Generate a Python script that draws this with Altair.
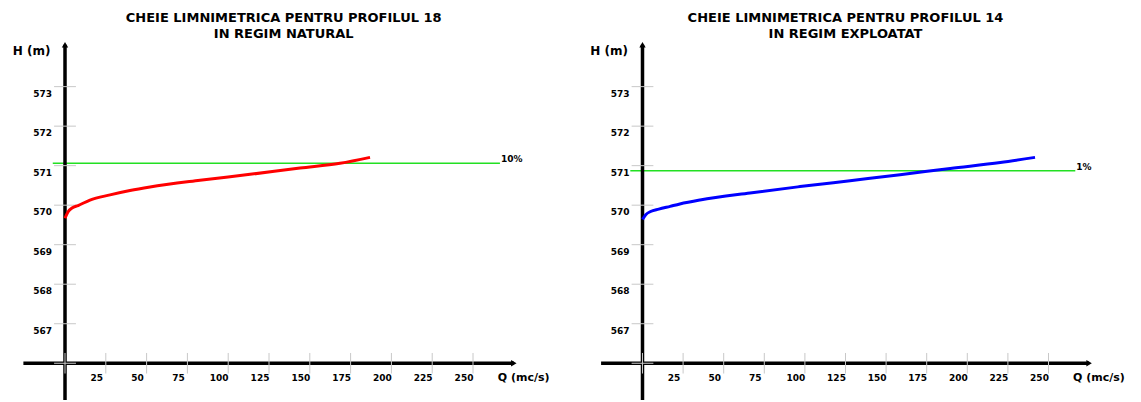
import altair as alt
import pandas as pd

# ---------------- data ----------------
q_nat = [0, 1.8, 4.3, 8.0, 15.3, 27.6, 39.8, 52.1, 82.7, 113.4, 144, 168.5, 186.9]
h_nat = [569.67, 569.83, 569.93, 569.99, 570.13, 570.26, 570.37, 570.46, 570.63, 570.78, 570.94, 571.06, 571.21]

q_exp = [0, 2, 5, 10, 17, 23, 35.4, 66.2, 97, 127.8, 158.6, 189.5, 220.3, 241.7]
h_exp = [569.64, 569.76, 569.84, 569.90, 569.97, 570.03, 570.13, 570.31, 570.47, 570.62, 570.77, 570.93, 571.08, 571.21]

y_ticks = [567, 568, 569, 570, 571, 572, 573]
x_ticks = [25, 50, 75, 100, 125, 150, 175, 200, 225, 250]
x_tick_labels = ["25", "50", "75", "100", "125", "150", "175", "200", "225", "250"]

green_nat = 571.06
green_exp = 570.87
green_label_nat = "10%"
green_label_exp = "1%"

title_nat = ["CHEIE LIMNIMETRICA PENTRU PROFILUL 18", "IN REGIM NATURAL"]
title_exp = ["CHEIE LIMNIMETRICA PENTRU PROFILUL 14", "IN REGIM EXPLOATAT"]

# ---------------- layout constants ----------------
H_MIN, H_MAX = 565.07, 574.99
H0 = 566            # origin of vertical axis
FONT = "DejaVu Sans"


def panel(q, h, color, green_h, green_label, title, title_q, qmin, qmax, width):
    xs = alt.Scale(domain=[qmin, qmax], nice=False, zero=False)
    ys = alt.Scale(domain=[H_MIN, H_MAX], nice=False, zero=False)

    def X(f="q"):
        return alt.X(f"{f}:Q", scale=xs, axis=None)

    def Y(f="h"):
        return alt.Y(f"{f}:Q", scale=ys, axis=None)

    curve = alt.Chart(pd.DataFrame({"q": q, "h": h})).mark_line(
        color=color, strokeWidth=3, interpolate="monotone"
    ).encode(x=X(), y=Y())

    gdf = pd.DataFrame({"q": [-7.5], "q2": [266.5], "h": [green_h], "lab": [green_label]})
    green = alt.Chart(gdf).mark_rule(color="#22e022", strokeWidth=1.5).encode(
        x=X(), x2="q2:Q", y=Y()
    )
    glab = alt.Chart(gdf).mark_text(
        align="left", baseline="alphabetic", font=FONT, fontWeight="bold", fontSize=9, dx=1, dy=-1
    ).encode(x=X("q2"), y=Y(), text="lab:N")

    # axis lines
    yaxis = alt.Chart(pd.DataFrame({"q": [0], "h": [H_MIN], "h2": [574.06]})).mark_rule(
        color="black", strokeWidth=3.5
    ).encode(x=X(), y=Y(), y2="h2:Q")
    xaxis = alt.Chart(pd.DataFrame({"q": [-25.5], "q2": [275], "h": [H0]})).mark_rule(
        color="black", strokeWidth=3.5
    ).encode(x=X(), x2="q2:Q", y=Y())
    arrow_up = alt.Chart(pd.DataFrame({"q": [0], "h": [574.06]})).mark_point(
        shape="triangle-up", filled=True, color="black", size=40, opacity=1
    ).encode(x=X(), y=Y())
    arrow_r = alt.Chart(pd.DataFrame({"q": [275], "h": [H0]})).mark_point(
        shape="triangle-right", filled=True, color="black", size=40, opacity=1
    ).encode(x=X(), y=Y())

    # ticks
    ytdf = pd.DataFrame({"h": y_ticks + [H0], "q": -6.7, "q2": 6.7})
    yt = alt.Chart(ytdf).mark_rule(color="#c8c8c8", strokeWidth=1).encode(
        x=X(), x2="q2:Q", y=Y()
    )
    xtdf = pd.DataFrame({"q": x_ticks + [0], "h": H0 - 0.26, "h2": H0 + 0.26})
    xt = alt.Chart(xtdf).mark_rule(color="#c8c8c8", strokeWidth=1).encode(
        x=X(), y=Y(), y2="h2:Q"
    )

    # tick labels
    yldf = pd.DataFrame({"h": y_ticks, "q": 0, "lab": [str(v) for v in y_ticks]})
    yl = alt.Chart(yldf).mark_text(
        align="right", baseline="middle", font=FONT, fontWeight="bold", fontSize=9, dx=-13, dy=7
    ).encode(x=X(), y=Y(), text="lab:N")
    xldf = pd.DataFrame({"q": x_ticks, "h": H0, "lab": x_tick_labels})
    xl = alt.Chart(xldf).mark_text(
        align="center", baseline="middle", font=FONT, fontWeight="bold", fontSize=9, dx=-9, dy=15
    ).encode(x=X(), y=Y(), text="lab:N")

    # axis titles
    ht = alt.Chart(pd.DataFrame({"q": [-20.5], "h": [573.9], "lab": ["H (m)"]})).mark_text(
        align="center", baseline="middle", font=FONT, fontWeight="bold", fontSize=12
    ).encode(x=X(), y=Y(), text="lab:N")
    qt = alt.Chart(pd.DataFrame({"q": [281], "h": [H0], "lab": ["Q (mc/s)"]})).mark_text(
        align="center", baseline="middle", font=FONT, fontWeight="bold", fontSize=11, dy=15
    ).encode(x=X(), y=Y(), text="lab:N")

    # title
    tdf = pd.DataFrame({"q": [title_q, title_q], "h": [574.74, 574.34], "lab": title})
    tt = alt.Chart(tdf).mark_text(
        align="center", baseline="middle", font=FONT, fontWeight="bold", fontSize=13
    ).encode(x=X(), y=Y(), text="lab:N")

    return alt.layer(
        green, yaxis, xaxis, arrow_up, arrow_r, yt, xt, curve, glab, yl, xl, ht, qt, tt
    ).properties(width=width, height=392)


left = panel(q_nat, h_nat, "#ff0000", green_nat, green_label_nat, title_nat, 134,
             -34.93, 309.43, 562)
right = panel(q_exp, h_exp, "#0000ff", green_exp, green_label_exp, title_exp, 125,
              -44.64, 302.03, 563)

chart = alt.hconcat(left, right, spacing=0, bounds="flush", padding=0).configure_view(
    stroke=None
)

chart.save("out.html", embed_options={"renderer": "svg", "actions": False})
